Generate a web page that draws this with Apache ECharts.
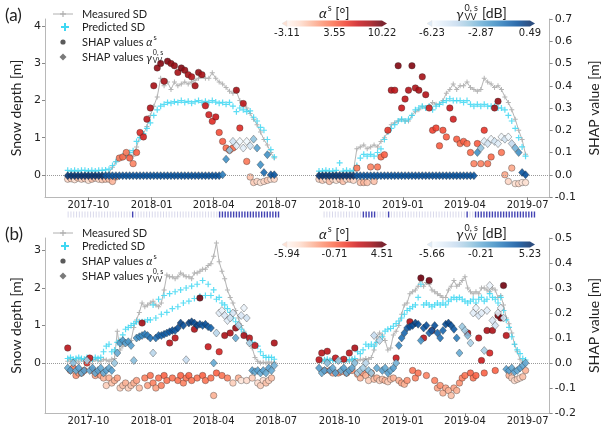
<!DOCTYPE html>
<html><head><meta charset="utf-8">
<script src="https://cdn.jsdelivr.net/npm/echarts@6/dist/echarts.min.js"></script>
<style>html,body{margin:0;padding:0;background:#fff}#c{width:609px;height:431px}</style>
</head><body><div id="c"></div>
<script>
// ---------------- DATA ----------------
const xTickLabels = ['2017-10','2018-01','2018-04','2018-07','2018-10','2019-01','2019-04','2019-07'];
const yLeftTicksA = [0,1,2,3,4];
const yLeftTicksB = [0,1,2,3];
const cbarA_alpha = ['-3.11','3.55','10.22'];
const cbarA_gamma = ['-6.23','-2.87','0.49'];
const cbarB_alpha = ['-5.94','-0.71','4.51'];
const cbarB_gamma = ['-5.66','-0.21','5.23'];

// panel (a): acquisitions every 5 days from 1 Sep of each season
const measA1 = [0,0.02,0,0.01,0,0,0.02,0,0,0.01,0,0.02,0.05,
 0.2,0.35,0.42,0.45,0.52,0.55,0.5,0.75,
 1.05,1.1,1.3,1.6,1.85,2.1,2.6,2.4,2.5,2.3,
 2.5,2.4,2.45,2.5,2.45,2.5,2.55,2.6,2.65,2.6,
 2.6,2.75,2.6,2.5,2.45,2.35,2.25,2.2,2.25,2.0,
 1.9,1.8,1.65,1.5,1.35,1.15,0.95,0.8,0.6,0.45];
const predA1 = [0.12,0.1,0.12,0.1,0.12,0.12,0.1,0.12,0.1,0.12,0.12,0.13,
 0.15,0.25,0.35,0.45,0.5,0.55,0.6,0.65,0.9,
 1.0,1.1,1.25,1.4,1.6,1.75,1.85,1.9,1.95,1.93,
 1.97,1.95,2.0,1.95,1.98,1.93,1.97,2.0,1.95,1.98,
 1.95,2.0,1.96,1.93,1.95,1.9,1.95,1.85,1.7,1.8,
 1.75,1.7,1.72,1.55,1.45,1.28,1.2,0.95,0.68,0.48];
const shapAlphaA1 = [-0.02,-0.018,-0.022,-0.015,-0.02,-0.018,-0.025,-0.02,-0.015,-0.02,-0.022,-0.02,
 -0.02,-0.03,-0.01,0.075,0.08,0.1,0.075,0.05,0.1,
 0.19,0.17,0.25,0.3,0.4,0.48,0.5,0.42,0.51,0.5,
 0.49,0.46,0.48,0.47,0.45,0.44,0.4,0.46,0.45,0.31,
 0.27,0.24,0.26,0.19,0.15,0.12,0.11,0.12,0.38,0.21,
 0.32,0.06,-0.01,-0.035,-0.03,-0.035,-0.03,-0.025,-0.02,-0.02];
const featAlphaA1 = [-1,-0.5,-1.5,0,-1,-0.5,-1.5,0,-0.5,-1,-0.5,0,
 0,0.5,1,3,3.5,3,4,2.5,4,
 6,6.5,7.5,8,8.5,9,9.5,8.5,9.5,9,
 9,8.5,9.5,9,8.5,8,8.5,9,8.5,7,
 6.5,6,7,4.5,4,3.5,3,3.5,8.5,6,
 7.5,3,0,-0.5,-1,-1.5,-1,-0.5,-1.5,-1];
const shapGammaA1 = [-0.004,-0.004,-0.004,-0.004,-0.004,-0.004,-0.004,-0.004,-0.004,-0.004,-0.004,-0.004,-0.004,-0.004,-0.004,
 -0.004,-0.004,-0.004,-0.004,-0.004,-0.004,-0.004,-0.004,-0.004,-0.004,-0.004,-0.004,-0.004,-0.004,-0.004,
 -0.004,-0.004,-0.004,-0.004,-0.004,-0.004,-0.004,-0.004,-0.004,-0.004,-0.004,-0.004,-0.004,-0.004,-0.004,
 0.0,0.07,0.11,0.15,0.13,0.15,0.12,0.15,0.13,0.16,0.12,0.045,0.01,0.09,0.0,0.0];
const featGammaA1 = [0.3,0.3,0.3,0.3,0.3,0.3,0.3,0.3,0.3,0.3,0.3,
 -0.4,-0.4,-0.4,-0.4,-0.4,-0.4,-0.4,-0.4,-0.4,-0.4,-0.4,-0.4,-0.4,-0.4,-0.4,-0.4,-0.4,
 -0.4,-0.4,-0.4,-0.4,-0.4,-0.4,-0.4,-0.4,-0.4,-0.4,-0.4,-0.4,-0.4,-0.4,-0.4,-0.4,-0.4,
 -1.5,-2,-3.5,-5,-5.5,-6,-5.5,-6,-5,-3.5,-2.5,-2,-1,-2,-0.5,-0.5];

const measA2 = [0.03,0.02,0.04,0.03,0.02,0.05,0.03,0.04,0.02,0.05,0.1,
 0.7,0.75,0.8,0.7,0.75,0.8,0.75,0.9,1.0,1.15,
 1.35,1.4,1.45,1.5,1.45,1.45,1.6,1.7,1.75,1.85,
 1.8,1.85,1.95,1.9,1.9,2.0,2.2,2.3,2.45,2.3,
 2.4,2.4,2.5,2.35,2.3,2.25,2.3,2.6,2.5,2.45,
 2.35,2.4,2.3,2.1,1.95,1.75,1.5,1.2,0.95,0.55];
const predA2 = [0.1,0.1,0.12,0.1,0.1,0.12,0.32,0.1,0.12,0.1,0.12,
 0.25,0.45,0.55,0.5,0.55,0.5,0.6,0.7,0.95,1.15,
 1.25,1.35,1.45,1.5,1.45,1.5,1.6,1.75,1.8,1.85,
 1.8,1.85,1.75,1.85,1.9,1.95,2.0,2.05,2.0,2.0,
 2.0,1.95,2.0,1.9,1.85,1.9,1.85,1.9,1.85,1.85,
 1.85,1.8,1.8,1.75,1.6,1.45,1.25,1.0,0.75,0.5];
const shapAlphaA2 = [-0.02,-0.025,-0.02,-0.03,-0.02,-0.025,-0.02,-0.03,-0.02,-0.02,-0.025,
 0.03,-0.035,-0.035,-0.035,0.035,-0.03,0.035,0.08,0.09,0.2,
 0.38,0.38,0.49,0.3,0.34,0.38,0.49,0.39,0.38,0.44,
 0.36,0.3,0.2,0.21,0.13,0.2,0.17,0.3,0.25,0.16,
 0.14,0.15,0.14,0.1,0.05,0.14,0.05,0.2,0.05,0.08,
 0.3,0.33,0.1,0.0,-0.03,0.03,-0.04,-0.04,-0.035,-0.035];
const featAlphaA2 = [-1,-0.5,-1.5,0,-1,-1.5,-0.5,0,-1.5,-0.5,-1,
 3,0,0.5,0,2.5,0,3,3.5,4,5.5,
 8,7.5,9.5,7,7.5,8,9.5,8,8.5,8.5,
 8,6.5,5,5,4,4.5,4,7,6.5,4,
 3.5,4,3.5,3.5,2.5,4,2.5,5.5,3,3.5,
 8.5,9,3,1,-1,1,-1.5,-1,-2,-1.5];
const shapGammaA2 = [-0.004,-0.004,-0.004,-0.004,-0.004,-0.004,-0.004,-0.004,-0.004,-0.004,-0.004,-0.004,-0.004,-0.004,-0.004,
 -0.004,-0.004,-0.004,-0.004,-0.004,-0.004,-0.004,-0.004,-0.004,-0.004,-0.004,-0.004,-0.004,-0.004,-0.004,
 -0.004,-0.004,-0.004,-0.004,-0.004,-0.004,-0.004,-0.004,-0.004,-0.004,-0.004,-0.004,-0.004,-0.004,-0.004,-0.004,
 0.1,0.12,0.15,0.14,0.16,0.15,0.14,0.17,0.16,0.17,0.14,0.12,0.1,0.01,0.0];
const featGammaA2 = [0.3,0.3,0.3,0.3,0.3,0.3,0.3,0.3,0.3,0.3,0.3,
 -0.4,-0.4,-0.4,-0.4,-0.4,-0.4,-0.4,-0.4,-0.4,-0.4,-0.4,-0.4,-0.4,-0.4,-0.4,-0.4,-0.4,-0.4,
 -0.4,-0.4,-0.4,-0.4,-0.4,-0.4,-0.4,-0.4,-0.4,-0.4,-0.4,-0.4,-0.4,-0.4,-0.4,-0.4,-0.4,
 -2,-3.5,-5.5,-5,-6,-5,-5.5,-6,-5,-6,-4.5,-3,-2,-0.5,-0.3];

// panel (b): acquisitions every 4 days from 1 Sep of each season
const measB1 = [0.05,0.1,0.05,0.08,0.03,0.1,0.05,0.08,0.12,0.05,0.1,0.06,0.05,0.1,0.08,0.05,0.1,0.12,
 0.85,0.35,0.45,0.55,0.55,0.6,0.95,1.15,1.35,1.6,1.5,1.55,
 1.6,1.65,1.55,1.5,1.6,1.95,2.35,2.3,2.3,2.25,2.3,2.4,
 2.35,2.3,2.3,2.25,2.4,2.4,2.45,2.5,2.5,2.6,2.65,2.85,
 3.2,2.7,2.45,2.25,1.95,1.75,1.6,1.4,1.2,1.0,0.85,0.7,
 0.5,0.4,0.15,0.05,0.0,0.02,0.0,0.03,0.0,0.02];
const predB1 = [0.12,0.15,0.1,0.12,0.15,0.12,0.1,0.15,0.12,0.1,0.15,0.12,0.15,
 0.3,0.45,0.5,0.3,0.35,0.55,0.6,0.75,0.9,0.95,1.0,1.05,
 1.1,1.1,1.1,1.1,1.15,1.15,1.55,1.2,1.7,1.3,1.8,1.35,
 1.85,1.45,1.9,1.5,1.95,1.6,2.0,1.65,2.05,1.72,2.1,1.78,
 2.2,1.8,2.1,1.8,1.95,1.7,1.75,1.6,1.55,1.45,1.35,1.2,
 1.1,1.0,0.9,0.8,0.7,0.6,0.55,0.5,0.45,0.3,0.2,0.15,0.15,0.15,0.1];
const shapAlphaB1 = [0.06,-0.03,-0.02,-0.05,-0.04,-0.04,-0.03,0.0,0.02,-0.03,
 -0.05,-0.04,-0.05,-0.06,-0.09,-0.06,-0.08,-0.07,-0.06,-0.1,
 -0.09,-0.08,-0.1,-0.09,-0.08,-0.07,-0.1,0.16,-0.06,-0.09,
 -0.05,-0.08,-0.1,-0.06,-0.09,-0.05,-0.07,0.08,-0.06,0.1,
 -0.07,-0.05,-0.08,-0.06,-0.05,-0.07,0.135,-0.06,0.26,-0.05,
 -0.07,0.065,-0.06,-0.13,-0.04,0.045,-0.05,0.11,-0.06,0.12,
 -0.08,0.14,-0.06,-0.07,0.11,-0.07,0.1,-0.06,0.07,-0.08,
 -0.09,-0.07,-0.08,-0.07,-0.06,0.08];
const featAlphaB1 = [2.5,-2,-1.5,-2,-2.5,-2,-1.5,1,2,-2,
 -2.5,-2,-2.5,-3,-4,-3,-3.5,-3,-2.5,-4,
 -3.5,-3,-4,-3.5,-3,-2.5,-3.5,3,-1.5,-2.5,
 -1,-1.5,-2.5,-1,-1.5,-0.5,-1,2.5,-1,2.5,
 -1,-0.5,-1.5,-1,-0.5,-1,3,-1,4.3,-0.5,
 -1,2,-1,-3,-0.5,1.5,-1,3,-1.5,3,
 -4,3.5,-3,-5,3,-4.5,2.5,-4,2,-4.5,
 -4,-4.5,-3.5,-4,-3.5,3];
const shapGammaB1 = [-0.02,-0.03,0.0,-0.03,-0.02,-0.04,-0.03,0.01,-0.03,-0.02,-0.04,-0.03,-0.02,-0.04,-0.03,-0.02,-0.03,0.0,
 0.04,0.08,0.09,0.08,0.085,0.07,0.01,0.1,0.105,0.11,0.115,0.11,
 0.1,0.04,0.1,0.11,0.11,0.115,0.12,0.125,0.13,0.13,0.14,0.16,
 0.15,0.013,0.16,0.165,0.16,0.15,0.155,0.15,0.155,0.145,0.14,0.0,
 0.12,0.2,0.21,0.19,0.17,0.18,0.2,0.1,0.15,0.19,0.22,0.18,
 0.08,-0.03,-0.035,-0.03,-0.04,-0.03,-0.04,-0.02,-0.03,-0.01];
const featGammaB1 = [0,0.5,-1,0,0.5,0,0.5,-2,0,0.5,0,0.5,0,0,0.5,0,0.5,-1.5,
 0,0.5,1,0.5,1,0.5,-1,1,1.5,1.5,2,2,
 2.5,-2.5,2.5,3,3,3.5,3,3.5,4,3.5,4,4.5,
 4,-3,4.5,4.5,4,4.5,4,3.5,4,3.5,3,0,
 -2.5,-4.5,-5,-4,-4.5,-3.5,-4,0,-2.5,-4,-5,-3.5,
 -2,0.5,0,0.5,0,0.5,0,0.5,0,-0.5];

const measB2 = [0.08,0.05,0.1,0.06,0.08,0.12,0.05,0.08,0.1,0.06,0.08,0.05,0.1,0.08,0.06,0.1,0.08,0.12,0.1,0.15,
 0.35,0.7,0.8,0.75,0.6,0.35,0.4,0.75,0.85,1.0,1.3,1.55,
 1.6,1.85,1.9,1.95,2.05,2.3,2.05,2.15,2.1,1.95,1.9,1.85,
 1.8,1.75,1.75,1.95,2.05,2.2,2.05,2.1,2.2,2.3,2.0,1.9,
 1.85,1.9,1.85,2.0,2.0,1.95,1.9,2.0,1.95,1.75,1.8,1.55,
 1.2,1.05,0.8,0.5,0.3,0.1,0.02,0.0];
const predB2 = [0.08,0.06,0.08,0.1,0.07,0.08,0.06,0.09,0.08,0.07,0.09,0.08,0.1,0.12,
 0.3,0.25,0.35,0.5,0.45,0.5,0.45,0.55,0.62,0.7,0.85,0.9,
 0.92,0.98,1.05,1.12,1.2,1.3,1.4,1.45,1.5,1.55,1.75,2.1,
 1.55,1.6,1.55,1.5,1.55,1.6,1.55,1.6,1.55,1.65,1.7,1.75,
 1.7,1.75,1.7,1.65,1.6,1.65,1.7,1.6,1.7,1.75,1.65,1.7,
 1.85,1.75,1.7,1.6,1.75,1.4,1.15,0.95,0.7,0.5,0.35,0.25,0.12,0.08];
const shapAlphaB2 = [0.013,0.04,-0.03,0.047,-0.03,-0.04,0.02,-0.04,-0.035,0.015,
 -0.04,0.04,-0.03,0.06,-0.045,-0.06,-0.04,-0.05,-0.07,-0.04,
 -0.065,-0.06,-0.07,-0.065,-0.07,-0.075,-0.065,-0.06,0.02,-0.07,
 -0.08,-0.085,-0.07,0.165,-0.03,-0.06,-0.04,0.34,0.1,-0.05,
 0.33,0.13,-0.07,-0.1,-0.09,-0.12,-0.1,-0.11,-0.13,-0.1,
 -0.11,-0.08,-0.06,-0.05,0.12,-0.04,-0.06,-0.05,0.1,0.01,
 -0.04,0.13,0.04,0.13,-0.03,0.19,0.18,0.31,0.11,-0.05,
 -0.06,-0.07,-0.065,-0.06,-0.055,-0.03];
const featAlphaB2 = [2,2.5,-2,2.5,-2,-2.5,2,-2,-2.5,2,
 -2,2.5,-2,3,-2.5,-3,-2,-3,-4,-2.5,
 -3.5,-3,-4,-3.5,-3,-4,-3.5,-3,2,-3,
 -2.5,-3,-2,3,-1,-1.5,-1,4.3,2.5,-1.5,
 4.3,2.5,-1.5,-2.5,-2,-3,-2.5,-3,-3.5,-2.5,
 -3,-2,-1.5,-1,3,-0.5,-1,-0.5,2.5,2,
 -0.5,3,1.5,3,-0.5,4,4,4.3,2.5,-3,
 -4,-4.5,-4,-4.5,-3.5,-3];
const shapGammaB2 = [-0.02,-0.04,-0.03,0.0,-0.03,-0.02,-0.04,0.01,-0.03,-0.02,-0.04,-0.03,-0.02,0.0,-0.04,
 -0.03,-0.02,0.0,-0.03,-0.04,0.11,-0.02,0.09,-0.03,-0.02,-0.04,-0.03,-0.02,0.0,
 0.07,0.1,0.12,0.14,0.145,0.15,0.16,0.155,0.09,0.14,0.15,0.12,
 0.13,0.15,0.12,0.1,0.13,0.155,0.16,0.15,0.135,0.1,0.04,0.145,
 0.13,0.11,0.08,0.2,0.22,0.19,0.2,0.05,0.21,0.31,0.17,0.15,
 0.2,0.22,0.18,-0.025,-0.03,-0.02,-0.035,-0.03,-0.02,-0.01,0.0];
const featGammaB2 = [0.5,0,0.5,-1,0.5,0,0.5,-1.5,0,0.5,0,0.5,0,-1,-2,
 -1.5,-2,-2.5,-1,-1.5,-3,0,-3,0.5,0,0.5,0,0.5,-0.5,
 1.5,2.5,3,3.5,4,4,4.5,4,1,3.5,4,3,
 3.5,4,3,2.5,3,4,4.5,4,3.5,2,0,-1.5,
 -1.5,-1,-2,-4.5,-5,-4,-4.5,-2,-4.5,-5,-4,-3.5,
 -4.5,-5,-3.5,0.5,0.5,0,0.5,0,0.5,0,0];

// snow-condition strip (every 4 days from 1 Sep), 1 = dark mark
const stripS1 = '00000000000000000000000' + '1' + '000000000000000000000000000000' + '1111111111111111111111';
const stripS2 = '00000000000000' + '11111' + '0000' + '1' + '000000000000000000000000000' + '1' + '00' + '1111111111111111111111';

// ---------------- BUILD ----------------
const DAY = 86400000;
const X_MIN = Date.UTC(2017,6,30), X_MAX = Date.UTC(2019,7,2);
function dates(y, m, d, step, n){ const t0 = Date.UTC(y, m-1, d); const o=[]; for(let i=0;i<n;i++) o.push(t0 + i*step*DAY); return o; }
const dA1 = dates(2017,9,1,5,measA1.length), dA2 = dates(2018,9,1,5,measA2.length);
const dB1 = dates(2017,9,1,4,measB1.length), dB2 = dates(2018,9,1,4,measB2.length);
const dS1 = dates(2017,9,1,4,stripS1.length), dS2 = dates(2018,9,1,4,stripS2.length);
const GAP = Date.UTC(2018,7,1);
function pairs(d, v){ return d.map((t,i)=>[t, v[i]]); }
function triples(d, v, f){ return d.map((t,i)=>[t, v[i], f[i]]); }
function lineData(d1,v1,d2,v2){ return pairs(d1,v1).concat([[GAP,null]], pairs(d2,v2)); }
const xTickVals = xTickLabels.map(s => Date.UTC(+s.slice(0,4), +s.slice(5,7)-1, 1));

const REDS = ['#fff5f0','#fee0d2','#fcbba1','#fc9272','#fb6a4a','#ef3b2c','#cb181d','#a50f15','#67000d'];
const BLUES = ['#f7fbff','#deebf7','#c6dbef','#9ecae1','#6baed6','#4292c6','#2171b5','#08519c','#08306b'];
const CYAN = '#3fd7f2';
const PLUS = 'path://M4,0H6V4H10V6H6V10H4V6H0V4H4Z';
const TICKF = 'DejaVu Sans', LABF = 'Lato';
const SPINE = '#b8b8b8';

function fmtMonth(v){ const d = new Date(v); return d.getUTCFullYear() + '-' + String(d.getUTCMonth()+1).padStart(2,'0'); }

function xAx(gi, show){
  return { type:'value', gridIndex:gi, min:X_MIN, max:X_MAX, scale:true,
    axisLine:{show:show, onZero:false, lineStyle:{color:SPINE, width:1}},
    axisTick:{show:show, customValues:xTickVals, length:3, lineStyle:{color:'#888'}},
    axisLabel:{show:show, customValues:xTickVals, formatter:fmtMonth, fontFamily:TICKF, fontSize:10, color:'#222', margin:3, hideOverlap:false},
    splitLine:{show:false} };
}
function yLeft(gi, min, max, ticks, name){
  return { type:'value', gridIndex:gi, position:'left', min:min, max:max,
    axisLine:{show:true, onZero:false, lineStyle:{color:SPINE}},
    axisTick:{show:true, customValues:ticks, length:3, lineStyle:{color:'#888'}},
    axisLabel:{customValues:ticks, fontFamily:TICKF, fontSize:11, color:'#222', margin:4, formatter:v=>String(Math.round(v))},
    splitLine:{show:false},
    name:name, nameLocation:'middle', nameRotate:90, nameGap:18,
    nameTextStyle:{fontFamily:LABF, fontSize:14, color:'#222'} };
}
function yRight(gi, min, max, name){
  return { type:'value', gridIndex:gi, position:'right', min:min, max:max, interval:0.1,
    axisLine:{show:true, onZero:false, lineStyle:{color:SPINE}},
    axisTick:{show:true, length:3, lineStyle:{color:'#888'}},
    axisLabel:{fontFamily:TICKF, fontSize:11, color:'#222', margin:5, formatter:v=>v.toFixed(1)},
    splitLine:{show:false},
    name:name, nameLocation:'middle', nameRotate:90, nameGap:30,
    nameTextStyle:{fontFamily:LABF, fontSize:14, color:'#222'} };
}

function panelSeries(xi, yl, yr, d1, d2, m1, m2, p1, p2, a1, fa1, a2, fa2, g1, fg1, g2, fg2){
  return [
    { type:'line', xAxisIndex:xi, yAxisIndex:yl, data:lineData(d1,m1,d2,m2), connectNulls:false,
      symbol:PLUS, symbolSize:5, showSymbol:true, lineStyle:{color:'#b4b4b4', width:1},
      itemStyle:{color:'#b4b4b4'}, z:2, silent:true,
      markLine:{silent:true, symbol:['none','none'], label:{show:false}, lineStyle:{type:'dotted', color:'#9a9a9a', width:1}, data:[{yAxis:0}]} },
    { type:'scatter', xAxisIndex:xi, yAxisIndex:yl, data:pairs(d1,p1).concat(pairs(d2,p2)),
      symbol:PLUS, symbolSize:6, itemStyle:{color:CYAN, opacity:0.85}, z:3, silent:true },
    { type:'scatter', xAxisIndex:xi, yAxisIndex:yr, data:triples(d1,a1,fa1).concat(triples(d2,a2,fa2)),
      symbol:'circle', symbolSize:6.5, itemStyle:{color:'#555', borderColor:'rgba(40,40,40,0.65)', borderWidth:0.6, opacity:0.9}, z:4, silent:true },
    { type:'scatter', xAxisIndex:xi, yAxisIndex:yr, data:triples(d1,g1,fg1).concat(triples(d2,g2,fg2)),
      symbol:'diamond', symbolSize:[7,8], itemStyle:{color:'#777', borderColor:'rgba(40,40,40,0.65)', borderWidth:0.6, opacity:0.9}, z:5, silent:true }
  ];
}

const series = [].concat(
  panelSeries(0,0,1,dA1,dA2,measA1,measA2,predA1,predA2,shapAlphaA1,featAlphaA1,shapAlphaA2,featAlphaA2,shapGammaA1,featGammaA1,shapGammaA2,featGammaA2),
  panelSeries(1,2,3,dB1,dB2,measB1,measB2,predB1,predB2,shapAlphaB1,featAlphaB1,shapAlphaB2,featAlphaB2,shapGammaB1,featGammaB1,shapGammaB2,featGammaB2)
);
const stripLight = [], stripDark = [];
[[dS1,stripS1],[dS2,stripS2]].forEach(([d,s]) => d.forEach((t,i) => (s[i]==='1'?stripDark:stripLight).push([t,0.5])));
series.push({type:'scatter', xAxisIndex:2, yAxisIndex:4, data:stripLight, symbol:'rect', symbolSize:[1,6], itemStyle:{color:'#cfcfe6'}, silent:true});
series.push({type:'scatter', xAxisIndex:2, yAxisIndex:4, data:stripDark, symbol:'rect', symbolSize:[1.4,6], itemStyle:{color:'#1414a0'}, silent:true});

// ---------------- GRAPHICS (legend, colorbars, panel tags) ----------------
const ctx = document.createElement('canvas').getContext('2d');
function tw(s, size, fam){ ctx.font = size + 'px "' + fam + '"'; return ctx.measureText(s).width; }
function T(x, y, s, size, fam, align, italic){
  return {type:'text', x:x, y:y, silent:true, style:{text:s, fontSize:size, fontFamily:fam, fontStyle:italic?'italic':'normal', fill:'#222', align:align||'left', verticalAlign:'middle'}};
}
function legend(dy){
  const g = [], gray = '#b0b0b0', fs = 11;
  g.push({type:'line', silent:true, shape:{x1:53,y1:14+dy,x2:73,y2:14+dy}, style:{stroke:gray, lineWidth:1}});
  g.push({type:'line', silent:true, shape:{x1:60,y1:14+dy,x2:66,y2:14+dy}, style:{stroke:gray, lineWidth:1.2}});
  g.push({type:'line', silent:true, shape:{x1:63,y1:11+dy,x2:63,y2:17+dy}, style:{stroke:gray, lineWidth:1.2}});
  g.push({type:'line', silent:true, shape:{x1:61,y1:27+dy,x2:69,y2:27+dy}, style:{stroke:CYAN, lineWidth:2}});
  g.push({type:'line', silent:true, shape:{x1:65,y1:23+dy,x2:65,y2:31+dy}, style:{stroke:CYAN, lineWidth:2}});
  g.push({type:'circle', silent:true, shape:{cx:63, cy:42+dy, r:2.6}, style:{fill:'#5a5a5a'}});
  g.push({type:'polygon', silent:true, shape:{points:[[63,53.5+dy],[66.5,57+dy],[63,60.5+dy],[59.5,57+dy]]}, style:{fill:'#7a7a7a'}});
  g.push(T(82, 14+dy, 'Measured SD', fs, LABF));
  g.push(T(82, 27+dy, 'Predicted SD', fs, LABF));
  const s3 = 'SHAP values ';
  const w3 = tw(s3, fs, LABF), wa = tw('α', fs, LABF);
  g.push(T(82, 42+dy, s3, fs, LABF));
  g.push(T(82 + w3, 42+dy, 'α', fs, LABF, 'left', true));
  g.push(T(82 + w3 + wa + 0.5, 38+dy, 's', 7.5, LABF));
  const s4 = 'SHAP values ';
  const wg = tw('γ', fs, LABF);
  g.push(T(82, 57+dy, s4, fs, LABF));
  g.push(T(82 + w3, 58+dy, 'γ', fs, LABF, 'left', true));
  g.push(T(82 + w3 + wg + 0.5, 52.5+dy, '0, s', 7, LABF));
  g.push(T(82 + w3 + wg + 0.5, 61+dy, 'VV', 7, LABF));
  return g;
}
function colorbar(x0, x1, yTop, h, colors, labels){
  const g = [];
  const stops = colors.map((c,i)=>({offset:i/(colors.length-1), color:c}));
  g.push({type:'rect', silent:true, shape:{x:x0, y:yTop, width:x1-x0, height:h}, style:{fill:new echarts.graphic.LinearGradient(0,0,1,0,stops), opacity:0.85}});
  g.push({type:'polygon', silent:true, shape:{points:[[x0-5,yTop+h/2],[x0,yTop],[x0,yTop+h]]}, style:{fill:colors[1], stroke:'#e0e0e0', lineWidth:0.5}});
  g.push({type:'polygon', silent:true, shape:{points:[[x1,yTop],[x1+5,yTop+h/2],[x1,yTop+h]]}, style:{fill:colors[colors.length-1], opacity:0.85}});
  const ly = yTop + h + 7;
  g.push(T(x0, ly, labels[0], 10, TICKF, 'center'));
  g.push(T((x0+x1)/2, ly, labels[1], 10, TICKF, 'center'));
  g.push(T(x1, ly, labels[2], 10, TICKF, 'center'));
  return g;
}
function alphaTitle(cx, y){
  const fs = 14, w1 = tw('α', fs, LABF), w2 = tw('s', 9, LABF), w3 = tw(' [°]', fs, LABF);
  const x = cx - (w1+w2+w3)/2;
  return [T(x, y, 'α', fs, LABF, 'left', true), T(x+w1+0.5, y-4.5, 's', 9, LABF), T(x+w1+w2+0.5, y, ' [°]', fs, LABF)];
}
function gammaTitle(cx, y){
  const fs = 14, w1 = tw('γ', fs, LABF), w2 = tw('0, s', 9, LABF), w3 = tw(' [dB]', fs, LABF);
  const x = cx - (w1+w2+w3)/2;
  return [T(x, y+1, 'γ', fs, LABF, 'left', true), T(x+w1+0.5, y-5, '0, s', 9, LABF), T(x+w1+0.5, y+4.5, 'VV', 9, LABF), T(x+w1+w2+1, y, ' [dB]', fs, LABF)];
}
let graphics = [];
graphics = graphics.concat(legend(0), legend(219));
graphics = graphics.concat(colorbar(287, 382, 20.5, 6, REDS, cbarA_alpha), colorbar(432, 530, 20.5, 6, BLUES, cbarA_gamma));
graphics = graphics.concat(colorbar(287, 382, 241.5, 6, REDS, cbarB_alpha), colorbar(432, 530, 241.5, 6, BLUES, cbarB_gamma));
graphics = graphics.concat(alphaTitle(334, 13), gammaTitle(481, 13), alphaTitle(334, 234), gammaTitle(481, 233));
graphics.push(T(5, 16, '(a)', 17, LABF));
graphics.push(T(5, 235, '(b)', 17, LABF));

const option = {
  animation:false,
  backgroundColor:'#fff',
  textStyle:{fontFamily:TICKF},
  grid:[
    {left:45, right:50, top:19, height:178},
    {left:45, right:50, top:238, height:175},
    {left:45, right:50, top:211, height:7}
  ],
  xAxis:[ xAx(0,true), xAx(1,true),
    {type:'value', gridIndex:2, min:X_MIN, max:X_MAX, show:false, splitLine:{show:false}} ],
  yAxis:[
    yLeft(0, -0.6, 4.2, yLeftTicksA, 'Snow depth [m]'),
    yRight(0, -0.1, 0.7, 'SHAP value [m]'),
    yLeft(1, -4/3, 10/3, yLeftTicksB, 'Snow depth [m]'),
    yRight(1, -0.2, 0.5, 'SHAP value [m]'),
    {type:'value', gridIndex:2, min:0, max:1, show:false, splitLine:{show:false}}
  ],
  visualMap:[
    {type:'continuous', show:false, seriesIndex:2, dimension:2, min:-3.11, max:10.22, inRange:{color:REDS}},
    {type:'continuous', show:false, seriesIndex:3, dimension:2, min:-6.23, max:0.49, inRange:{color:BLUES}},
    {type:'continuous', show:false, seriesIndex:6, dimension:2, min:-5.94, max:4.51, inRange:{color:REDS}},
    {type:'continuous', show:false, seriesIndex:7, dimension:2, min:-5.66, max:5.23, inRange:{color:BLUES}}
  ],
  series:series,
  graphic:{elements:graphics}
};
const chart = echarts.init(document.getElementById('c'), null, {renderer:'canvas'});
chart.setOption(option);
</script></body></html>
